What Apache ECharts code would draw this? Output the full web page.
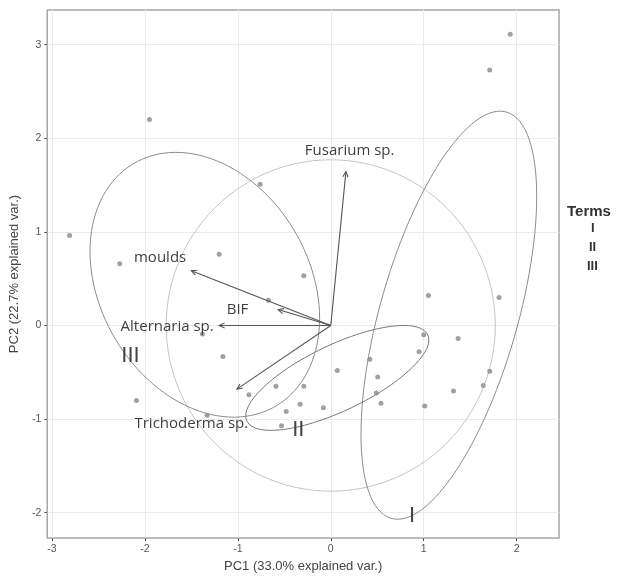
<!DOCTYPE html>
<html>
<head>
<meta charset="utf-8">
<script src="https://cdn.jsdelivr.net/npm/echarts@6/dist/echarts.min.js"></script>
<style>
html, body { margin: 0; background: #fff; }
#main { width: 617px; height: 579px; }
</style>
</head>
<body>
<div id="main"></div>
<script>
// sample scores on the first two components
var pc1 = [-2.81, -1.95, -2.27, -1.20, -0.76, -0.29, 1.93, 1.71, -0.67, -1.16, -2.09, -0.88,
    -0.59, -0.29, -0.33, -0.48, -0.53, -1.33, 1.05, 1.81, 1.00, 1.37, 0.95, 0.42, 0.07, 0.505,
    1.71, 1.64, 1.32, 0.49, 0.54, 1.01, -0.08, -1.38];
var pc2 = [0.96, 2.20, 0.66, 0.76, 1.51, 0.53, 3.11, 2.73, 0.27, -0.33, -0.80, -0.74,
    -0.65, -0.65, -0.84, -0.92, -1.07, -0.96, 0.32, 0.30, -0.10, -0.14, -0.28, -0.36, -0.48, -0.55,
    -0.49, -0.64, -0.70, -0.72, -0.83, -0.86, -0.88, -0.09];

// variable loadings (arrows)
var varNames = ['Fusarium sp.', 'moulds', 'BIF', 'Alternaria sp.', 'Trichoderma sp.'];
var varX = [0.163, -1.50, -0.566, -1.20, -1.01];
var varY = [1.643, 0.585, 0.17, 0.0, -0.68];
var varLabelX = [0.203, -1.836, -1.003, -1.76, -1.50];
var varLabelY = [1.87, 0.72, 0.171, -0.016, -1.05];

// groups: ellipse centre and spread
var terms = ['I', 'II', 'III'];
var ellCx = [1.27, 0.07, -1.355];
var ellCy = [0.11, -0.56, 0.435];
var ellSxx = [0.893, 0.97, 1.525];
var ellSxy = [1.2, 0.40, -0.44];
var ellSyy = [4.75, 0.3136, 2.0];
var termLabelX = [0.875, -0.35, -2.155];
var termLabelY = [-2.03, -1.12, -0.33];

var circleR = 1.77;
var xTicks = [-3, -2, -1, 0, 1, 2];
var yTicks = [-2, -1, 0, 1, 2, 3];

function ellipsePath(i) {
    var l11 = Math.sqrt(ellSxx[i]);
    var l21 = ellSxy[i] / l11;
    var l22 = Math.sqrt(ellSyy[i] - l21 * l21);
    var pts = [];
    for (var k = 0; k <= 120; k++) {
        var t = k / 120 * Math.PI * 2;
        pts.push([ellCx[i] + l11 * Math.cos(t), ellCy[i] + l21 * Math.cos(t) + l22 * Math.sin(t)]);
    }
    return pts;
}

function circlePath() {
    var pts = [];
    for (var k = 0; k <= 120; k++) {
        var t = k / 120 * Math.PI * 2;
        pts.push([circleR * Math.cos(t), circleR * Math.sin(t)]);
    }
    return pts;
}

var chart = echarts.init(document.getElementById('main'));

var series = [];
series.push({
    type: 'line', data: circlePath(), showSymbol: false, silent: true,
    lineStyle: { color: '#c4c4c4', width: 1 }, z: 2
});
terms.forEach(function (t, i) {
    series.push({
        type: 'line', data: ellipsePath(i), showSymbol: false, silent: true,
        lineStyle: { color: i == 1 ? '#777' : '#8c8c8c', width: 1 }, z: 3
    });
});
series.push({
    type: 'scatter',
    data: pc1.map(function (x, i) { return [x, pc2[i]]; }),
    symbolSize: 5,
    itemStyle: { color: '#8a8a8a' },
    z: 4
});
series.push({
    type: 'custom',
    data: varX.map(function (x, i) { return [x, varY[i]]; }),
    z: 5,
    renderItem: function (params, api) {
        var p0 = api.coord([0, 0]);
        var p1 = api.coord([api.value(0), api.value(1)]);
        var ang = Math.atan2(p1[1] - p0[1], p1[0] - p0[0]);
        var h = 6, spread = 0.45;
        var a = [p1[0] - h * Math.cos(ang - spread), p1[1] - h * Math.sin(ang - spread)];
        var b = [p1[0] - h * Math.cos(ang + spread), p1[1] - h * Math.sin(ang + spread)];
        return {
            type: 'group',
            children: [
                { type: 'line', shape: { x1: p0[0], y1: p0[1], x2: p1[0], y2: p1[1] },
                  style: { stroke: '#555', lineWidth: 1.1 } },
                { type: 'polyline', shape: { points: [a, p1, b] },
                  style: { stroke: '#555', lineWidth: 1.1, fill: null } }
            ]
        };
    }
});
series.push({
    type: 'custom',
    data: varLabelX.map(function (x, i) { return [x, varLabelY[i], i]; }),
    z: 6,
    renderItem: function (params, api) {
        var p = api.coord([api.value(0), api.value(1)]);
        return {
            type: 'text', x: p[0], y: p[1],
            style: { text: varNames[api.value(2)], align: 'center', verticalAlign: 'middle',
                fill: '#404040', fontSize: 15, fontFamily: 'Open Sans' }
        };
    }
});
series.push({
    type: 'custom',
    data: termLabelX.map(function (x, i) { return [x, termLabelY[i], i]; }),
    z: 6,
    renderItem: function (params, api) {
        var p = api.coord([api.value(0), api.value(1)]);
        return {
            type: 'text', x: p[0], y: p[1],
            style: { text: terms[api.value(2)], align: 'center', verticalAlign: 'middle',
                fill: '#444', fontSize: 22, fontFamily: 'Liberation Sans Narrow, Liberation Sans' }
        };
    }
});

var option = {
    animation: false,
    grid: { left: 43, top: 10, width: 516, height: 528, show: true, borderColor: '#a6a6a6', borderWidth: 1.5 },
    xAxis: {
        type: 'value', min: -3.05, max: 2.455,
        name: 'PC1 (33.0% explained var.)', nameLocation: 'middle', nameGap: 22,
        nameTextStyle: { color: '#444', fontSize: 13, fontFamily: 'Liberation Sans' },
        axisLine: { show: false, onZero: false },
        axisTick: { show: true, customValues: xTicks, length: 3, lineStyle: { color: '#555' } },
        axisLabel: { customValues: xTicks, color: '#555', fontSize: 10.5, margin: 6, fontFamily: 'Liberation Sans' },
        splitLine: { show: true, lineStyle: { color: '#ebebeb', width: 1 } }
    },
    yAxis: {
        type: 'value', min: -2.27, max: 3.37,
        name: 'PC2 (22.7% explained var.)', nameLocation: 'middle', nameGap: 24, nameRotate: 90,
        nameTextStyle: { color: '#444', fontSize: 13, fontFamily: 'Liberation Sans' },
        axisLine: { show: false, onZero: false },
        axisTick: { show: true, customValues: yTicks, length: 3, lineStyle: { color: '#555' } },
        axisLabel: { customValues: yTicks, color: '#555', fontSize: 10.5, margin: 6, fontFamily: 'Liberation Sans' },
        splitLine: { show: true, lineStyle: { color: '#ebebeb', width: 1 } }
    },
    graphic: [
        { type: 'text', left: 567, top: 204, style: { text: 'Terms', fill: '#333', fontSize: 15, fontWeight: 'bold', fontFamily: 'Liberation Sans' } },
        { type: 'text', left: 591, top: 222, style: { text: 'I', fill: '#333', fontSize: 13, fontWeight: 'bold', fontFamily: 'Liberation Sans' } },
        { type: 'text', left: 589, top: 241, style: { text: 'II', fill: '#333', fontSize: 13, fontWeight: 'bold', fontFamily: 'Liberation Sans' } },
        { type: 'text', left: 587, top: 260, style: { text: 'III', fill: '#333', fontSize: 13, fontWeight: 'bold', fontFamily: 'Liberation Sans' } }
    ],
    series: series
};
chart.setOption(option);
</script>
</body>
</html>
